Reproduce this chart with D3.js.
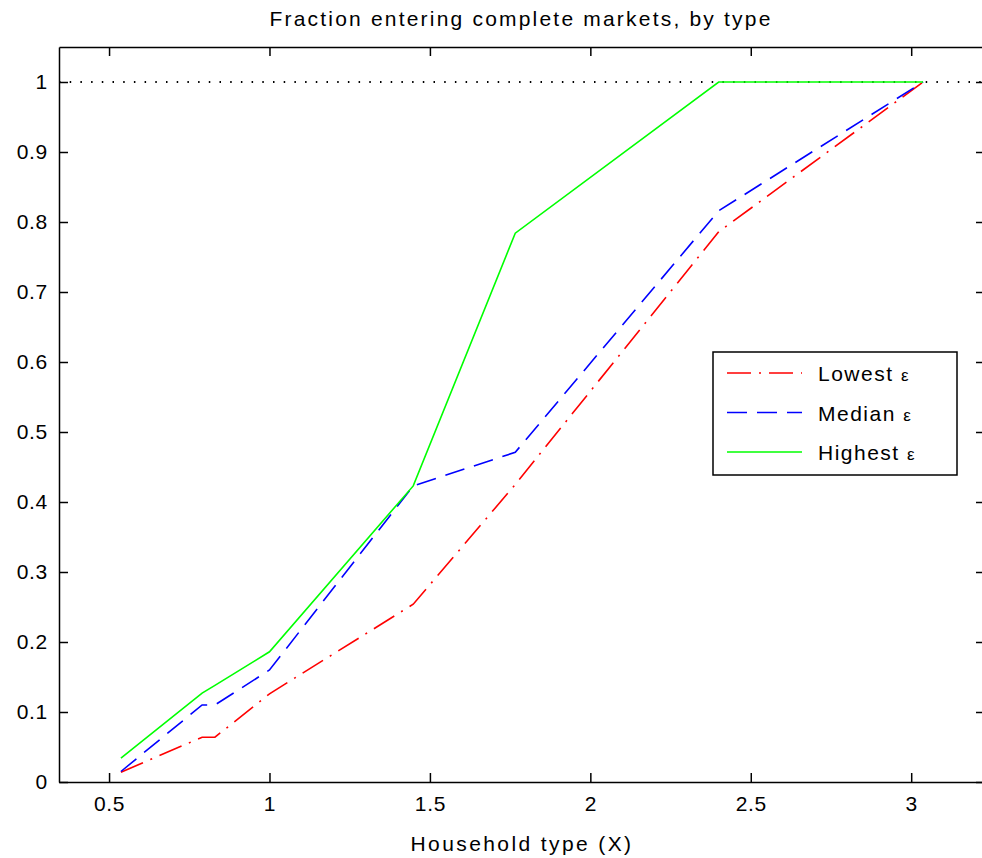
<!DOCTYPE html>
<html>
<head>
<meta charset="utf-8">
<style>
  body { margin: 0; background: #fff; }
  svg { display: block; font-family: "Liberation Sans", Arial, sans-serif; }
  .axis path, .axis line { stroke: #000; stroke-width: 1.5; }
  .axis text { fill: #000; font-size: 21px; letter-spacing: 0.7px; }
</style>
<script src="https://cdnjs.cloudflare.com/ajax/libs/d3/7.8.5/d3.min.js"></script>
</head>
<body>
<svg width="982" height="858"></svg>
<script>
// household types (x grid) and fractions per epsilon group
const types   = [0.537, 0.79, 0.83, 1.0, 1.448, 1.766, 2.40, 3.037];
const lowest  = [0.014, 0.064, 0.064, 0.126, 0.254, 0.425, 0.786, 1.0];
const median  = [0.015, 0.110, 0.110, 0.160, 0.423, 0.471, 0.816, 1.0];
const highest = [0.034, 0.127, 0.138, 0.186, 0.423, 0.784, 1.0, 1.0];
const xTicks = [0.5, 1, 1.5, 2, 2.5, 3];
const yTicks = [0, 0.1, 0.2, 0.3, 0.4, 0.5, 0.6, 0.7, 0.8, 0.9, 1];

const series = [
  {name: "Lowest", values: lowest, color: "#ff0000", dash: "24,8,2,8"},
  {name: "Median", values: median, color: "#0000ff", dash: "20,10"},
  {name: "Highest", values: highest, color: "#00ff00", dash: null}
];

const svg = d3.select("svg");
svg.append("rect").attr("width", 982).attr("height", 858).attr("fill", "#fff");

const mLeft = 59, mRight = 985, mTop = 47, mBottom = 782;
const x = d3.scaleLinear().domain([0.344, 3.23]).range([mLeft, mRight]);
const y = d3.scaleLinear().domain([0, 1.05]).range([mBottom, mTop]);

// reference line at 1
svg.append("line")
  .attr("x1", mLeft).attr("x2", mRight)
  .attr("y1", y(1)).attr("y2", y(1))
  .attr("stroke", "#000").attr("stroke-width", 2)
  .attr("stroke-dasharray", "1.5,9.2");

const line = d3.line().x((d, i) => x(types[i])).y(d => y(d));
series.forEach(s => {
  svg.append("path")
    .attr("d", line(s.values))
    .attr("fill", "none")
    .attr("stroke", s.color)
    .attr("stroke-width", 1.6)
    .attr("stroke-dasharray", s.dash);
});

// axes, ticks inward on all four sides
const fmt = d => d3.format("~g")(d);
svg.append("g").attr("class", "axis")
  .attr("transform", `translate(0,${mBottom})`)
  .call(d3.axisBottom(x).tickValues(xTicks).tickFormat(fmt).tickSizeInner(-9).tickSizeOuter(0).tickPadding(9))
  .call(g => g.selectAll("text").attr("dy", "0.95em"));
svg.append("g").attr("class", "axis")
  .attr("transform", `translate(0,${mTop})`)
  .call(d3.axisTop(x).tickValues(xTicks).tickFormat("").tickSizeInner(-9).tickSizeOuter(0));
svg.append("g").attr("class", "axis")
  .attr("transform", `translate(${mLeft},0)`)
  .call(d3.axisLeft(y).tickValues(yTicks).tickFormat(fmt).tickSizeInner(-9).tickSizeOuter(0).tickPadding(11));
svg.append("g").attr("class", "axis")
  .attr("transform", `translate(${mRight},0)`)
  .call(d3.axisRight(y).tickValues(yTicks).tickFormat("").tickSizeInner(-9).tickSizeOuter(0));

// title and x label
svg.append("text").attr("x", 521).attr("y", 26)
  .attr("text-anchor", "middle").attr("font-size", 21).attr("letter-spacing", 2.2)
  .text("Fraction entering complete markets, by type");
svg.append("text").attr("x", 522).attr("y", 851)
  .attr("text-anchor", "middle").attr("font-size", 21).attr("letter-spacing", 2.4)
  .text("Household type (X)");

// legend
const lg = svg.append("g");
lg.append("rect").attr("x", 713).attr("y", 352).attr("width", 244).attr("height", 123)
  .attr("fill", "#fff").attr("stroke", "#000").attr("stroke-width", 1.5);
series.forEach((s, i) => {
  const ly = 373 + i * 39.5;
  lg.append("line").attr("x1", 727).attr("x2", 802).attr("y1", ly).attr("y2", ly)
    .attr("stroke", s.color).attr("stroke-width", 1.6).attr("stroke-dasharray", s.dash);
  const t = lg.append("text").attr("x", 818).attr("y", ly + 8).attr("font-size", 21).attr("letter-spacing", 1.5);
  t.append("tspan").text(s.name + " ");
  t.append("tspan").attr("font-size", 17).text("ε");
});
</script>
</body>
</html>
